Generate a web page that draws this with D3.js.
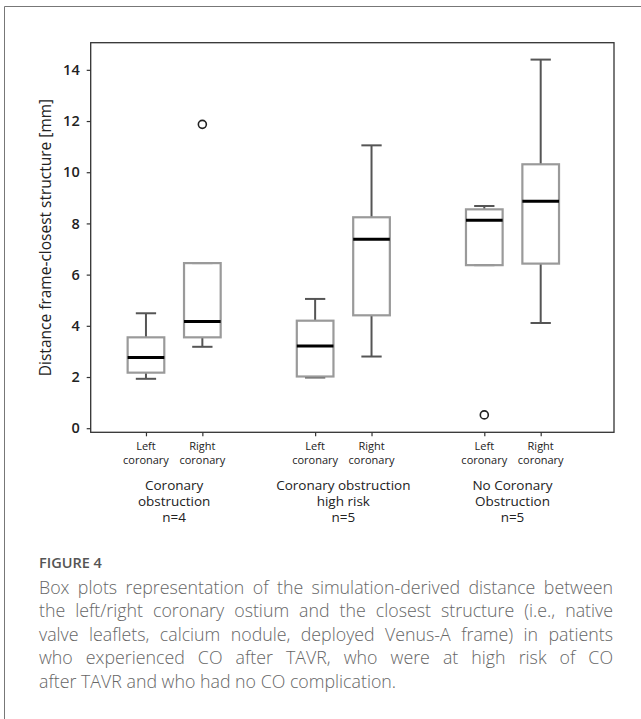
<!DOCTYPE html>
<html>
<head>
<meta charset="utf-8">
<script src="https://cdn.jsdelivr.net/npm/d3@7"></script>
<style>
  html, body { margin: 0; padding: 0; background: #fff; }
  svg { display: block; }
</style>
</head>
<body>
<div id="chart"></div>
<script>
// box plot stats (mm)
const groups = ["Coronary\nobstruction\nn=4", "Coronary obstruction\nhigh risk\nn=5", "No Coronary\nObstruction\nn=5"];
const sides = ["Left\ncoronary", "Right\ncoronary"];
const positions = [1, 2, 4, 5, 7, 8];
const whiskerLow = [1.93, 3.18, 1.98, 2.80, 6.37, 4.11];
const q1 = [2.17, 3.55, 2.02, 4.41, 6.37, 6.43];
const median = [2.76, 4.17, 3.21, 7.38, 8.12, 8.87];
const q3 = [3.55, 6.45, 4.20, 8.24, 8.55, 10.31];
const whiskerHigh = [4.49, 6.45, 5.05, 11.05, 8.68, 14.40];
const outliers = [[], [11.87], [], [], [0.52], []];
const yTicks = [0, 2, 4, 6, 8, 10, 12, 14];
const captionTitle = "FIGURE 4";
const captionLines = [
  "Box plots representation of the simulation-derived distance between",
  "the left/right coronary ostium and the closest structure (i.e., native",
  "valve leaflets, calcium nodule, deployed Venus-A frame) in patients",
  "who experienced CO after TAVR, who were at high risk of CO",
  "after TAVR and who had no CO complication."
];

const W = 641, H = 719;
const svg = d3.select("#chart").append("svg").attr("width", W).attr("height", H);

// outer figure border (only top and left show in the crop)
svg.append("path")
  .attr("d", `M4.5,${H} V6.5 H${W}`)
  .attr("fill", "none").attr("stroke", "#777").attr("stroke-width", 1);

const plot = { left: 90.7, right: 614, top: 42.7, bottom: 432.3 };
const x = d3.scaleLinear().domain([0.02, 9.30]).range([plot.left, plot.right]);
const y = d3.scaleLinear().domain([-0.16, 15.06]).range([plot.bottom, plot.top]);
const unit = x(1) - x(0);
const boxW = 0.65 * unit, capW = 0.36 * unit;

const font = "'Open Sans', 'Noto Sans', sans-serif";

// y axis
const yAxis = svg.append("g")
  .attr("transform", `translate(${plot.left},0)`)
  .call(d3.axisLeft(y).tickValues(yTicks).tickSize(4).tickPadding(7));
yAxis.select(".domain").remove();
yAxis.selectAll(".tick line").attr("stroke", "#333").attr("stroke-width", 1.2);
yAxis.selectAll(".tick text")
  .attr("fill", "#222").style("font-family", font).style("font-size", "14.5px").style("font-weight", 600);

// x axis (ticks only, labels added below)
const xAxis = svg.append("g")
  .attr("transform", `translate(0,${plot.bottom})`)
  .call(d3.axisBottom(x).tickValues(positions).tickSize(4).tickFormat(""));
xAxis.select(".domain").remove();
xAxis.selectAll(".tick line").attr("stroke", "#333").attr("stroke-width", 1.2);

positions.forEach((p, i) => {
  sides[i % 2].split("\n").forEach((line, j) => {
    svg.append("text")
      .attr("x", x(p)).attr("y", 450 + j * 14)
      .attr("text-anchor", "middle")
      .style("font-family", font).style("font-size", "11px").attr("fill", "#222")
      .text(line);
  });
});

groups.forEach((g, gi) => {
  const cx = (x(positions[gi * 2]) + x(positions[gi * 2 + 1])) / 2;
  g.split("\n").forEach((line, j) => {
    svg.append("text")
      .attr("x", cx).attr("y", 490 + j * 15.8)
      .attr("text-anchor", "middle")
      .style("font-family", font).style("font-size", "13.5px").attr("fill", "#222")
      .text(line);
  });
});

// y label
svg.append("text")
  .attr("transform", `translate(51,${(plot.top + plot.bottom) / 2}) rotate(-90)`)
  .attr("text-anchor", "middle")
  .style("font-family", font).style("font-size", "15.5px").attr("fill", "#222")
  .text("Distance frame-closest structure [mm]");

// boxes
const boxes = svg.append("g");
positions.forEach((p, i) => {
  const cx = x(p);
  const g = boxes.append("g");
  // whiskers
  [[q1[i], whiskerLow[i]], [q3[i], whiskerHigh[i]]].forEach(([a, b]) => {
    g.append("line").attr("x1", cx).attr("x2", cx).attr("y1", y(a)).attr("y2", y(b))
      .attr("stroke", "#555").attr("stroke-width", 2);
    g.append("line").attr("x1", cx - capW / 2).attr("x2", cx + capW / 2).attr("y1", y(b)).attr("y2", y(b))
      .attr("stroke", "#555").attr("stroke-width", 2);
  });
  g.append("rect")
    .attr("x", cx - boxW / 2).attr("width", boxW)
    .attr("y", y(q3[i])).attr("height", y(q1[i]) - y(q3[i]))
    .attr("fill", "none").attr("stroke", "#9a9a9a").attr("stroke-width", 2.2);
  g.append("line").attr("x1", cx - boxW / 2).attr("x2", cx + boxW / 2)
    .attr("y1", y(median[i])).attr("y2", y(median[i]))
    .attr("stroke", "#000").attr("stroke-width", 3);
  outliers[i].forEach(v => {
    g.append("circle").attr("cx", cx).attr("cy", y(v)).attr("r", 4)
      .attr("fill", "none").attr("stroke", "#222").attr("stroke-width", 1.6);
  });
});

// frame
svg.append("rect")
  .attr("x", plot.left).attr("y", plot.top)
  .attr("width", plot.right - plot.left).attr("height", plot.bottom - plot.top)
  .attr("fill", "none").attr("stroke", "#333").attr("stroke-width", 1.3);

// caption
svg.append("text")
  .attr("x", 39).attr("y", 568)
  .style("font-family", font).style("font-size", "14.5px").style("font-weight", 600)
  .attr("fill", "#555").text(captionTitle);

const capLeft = 39, capRight = 613;
captionLines.forEach((line, i) => {
  const t = svg.append("text")
    .attr("x", capLeft).attr("y", 593.5 + i * 23.6)
    .style("font-family", font).style("font-size", "17.8px").style("font-weight", 300)
    .attr("fill", "#666").text(line);
  if (i < captionLines.length - 1) {
    const natural = t.node().getComputedTextLength();
    const spaces = (line.match(/ /g) || []).length;
    if (spaces > 0) t.style("word-spacing", `${(capRight - capLeft - natural) / spaces}px`);
  }
});
</script>
</body>
</html>
